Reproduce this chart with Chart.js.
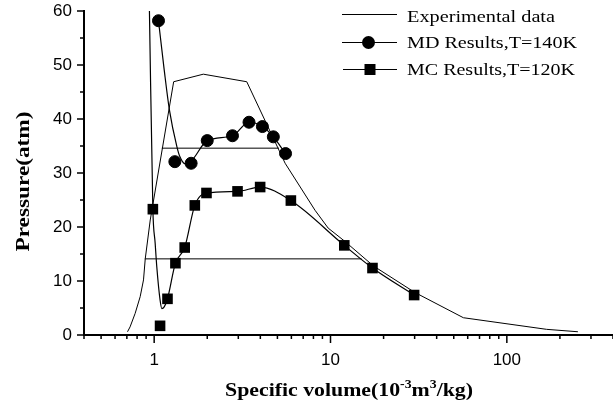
<!DOCTYPE html>
<html lang="en">
  <head>
    <meta charset="UTF-8" />
    <title>Pressure vs specific volume</title>
    <script src="https://cdn.jsdelivr.net/npm/chart.js"></script>
    <style>
      body { margin: 0; background: #fff; }
      #wrap { width: 613px; height: 409px; }
    </style>
  </head>
  <body>
    <div id="wrap"><canvas id="myChart" width="613" height="409"></canvas></div>

    <script>
      // experimental isotherm
      const expVolume = [0.706, 0.73, 0.78, 0.833, 0.87, 0.89, 0.95, 1.29, 1.9, 3.35, 5.53, 8.17, 9.7, 12.0, 17.5, 30.0, 56.7, 168, 253];
      const expPressure = [0.6, 1.5, 4.0, 7.1, 10.2, 14.1, 21.3, 46.9, 48.3, 46.9, 31.8, 23.1, 19.8, 17.4, 12.8, 7.9, 3.2, 1.05, 0.6];

      // MD results, T=140K (points and fitted curve)
      const mdVolume = [1.058, 1.31, 1.62, 2.0, 2.78, 3.45, 4.11, 4.74, 5.56];
      const mdPressure = [58.2, 32.1, 31.8, 36.0, 36.9, 39.4, 38.6, 36.7, 33.6];
      const mdCurveVolume = [1.058, 1.14, 1.22, 1.345, 1.40, 1.50, 1.62, 2.0, 2.78, 3.45, 4.11, 4.74, 5.56];
      const mdCurvePressure = [58.2, 49.1, 41.7, 34.9, 33.0, 31.7, 32.2, 36.0, 36.9, 39.4, 38.6, 36.7, 33.6];

      // MC results, T=120K (points and fitted curve)
      const mcVolume = [0.983, 1.08, 1.19, 1.32, 1.49, 1.70, 1.98, 2.97, 3.99, 5.96, 11.97, 17.3, 29.8];
      const mcPressure = [23.3, 1.7, 6.7, 13.3, 16.2, 24.0, 26.3, 26.6, 27.4, 24.9, 16.6, 12.4, 7.4];
      const mcCurveVolume = [0.94, 0.983, 1.013, 1.035, 1.08, 1.105, 1.14, 1.19, 1.32, 1.49, 1.70, 1.98, 2.97, 3.99, 5.96, 11.97, 17.3, 29.8];
      const mcCurvePressure = [60, 23.3, 17.0, 12.6, 6.5, 4.9, 5.2, 6.7, 13.3, 16.2, 24.0, 26.3, 26.6, 27.4, 24.9, 16.6, 12.4, 7.4];

      // horizontal (equal area) lines
      const mdTieVolume = [1.105, 5.1];
      const mdTiePressure = [34.6, 34.6];
      const mcTieVolume = [0.885, 15.0];
      const mcTiePressure = [14.1, 14.1];

      // axes
      const xLabelled = [1, 10, 100];
      const xMin = 0.4, xMax = 400;
      const yMin = 0, yMax = 60, yStep = 5;

      const xTickValues = [];
      for (let e = -1; e <= 2; e++) {
        for (let s = 1; s <= 9; s++) {
          const v = +(s * Math.pow(10, e)).toPrecision(3);
          if (v >= xMin && v <= xMax) xTickValues.push(v);
        }
      }

      const pts = (xs, ys) => xs.map((v, i) => ({ x: v, y: ys[i] }));
      const isLabelled = (v) => xLabelled.some((l) => Math.abs(l - v) < 1e-9);

      function stretchText(ctx, text, x, y, targetW) {
        const w = ctx.measureText(text).width;
        ctx.save();
        ctx.translate(x, y);
        ctx.scale(targetW / w, 1);
        ctx.fillText(text, 0, 0);
        ctx.restore();
      }

      // tick marks: long on labelled values, short otherwise
      const tickMarks = {
        id: "tickMarks",
        afterDraw(chart) {
          const ctx = chart.ctx;
          const xs = chart.scales.x, ys = chart.scales.y;
          const area = chart.chartArea;
          ctx.save();
          ctx.strokeStyle = "#000";
          ctx.lineWidth = 1.5;
          ctx.beginPath();
          xs.ticks.forEach((t) => {
            const px = xs.getPixelForValue(t.value);
            const len = isLabelled(t.value) ? 8 : 4;
            ctx.moveTo(px, area.bottom);
            ctx.lineTo(px, area.bottom + len);
          });
          ys.ticks.forEach((t) => {
            const py = ys.getPixelForValue(t.value);
            const len = t.value % 10 === 0 ? 7 : 4;
            ctx.moveTo(area.left, py);
            ctx.lineTo(area.left - len, py);
          });
          ctx.stroke();
          ctx.restore();
        }
      };

      // axis titles and legend
      const annotations = {
        id: "annotations",
        afterDraw(chart) {
          const ctx = chart.ctx;
          ctx.save();
          ctx.fillStyle = "#000";
          ctx.textAlign = "left";
          ctx.textBaseline = "alphabetic";

          // y title
          ctx.font = "bold 18px 'Liberation Serif'";
          const yt = "Pressure(atm)";
          const ytw = ctx.measureText(yt).width;
          ctx.save();
          ctx.translate(28.5, 251.5);
          ctx.rotate(-Math.PI / 2);
          ctx.scale(140 / ytw, 1);
          ctx.fillText(yt, 0, 0);
          ctx.restore();

          // x title with superscripts
          const main = "bold 19px 'Liberation Serif'";
          const sup = "bold 12px 'Liberation Serif'";
          const parts = [
            ["Specific volume(10", main, 0],
            ["-3", sup, -8],
            ["m", main, 0],
            ["3", sup, -8],
            ["/kg)", main, 0]
          ];
          let total = 0;
          parts.forEach((p) => { ctx.font = p[1]; total += ctx.measureText(p[0]).width; });
          ctx.save();
          ctx.translate(225, 396);
          ctx.scale(248 / total, 1);
          let cx = 0;
          parts.forEach((p) => {
            ctx.font = p[1];
            ctx.fillText(p[0], cx, p[2]);
            cx += ctx.measureText(p[0]).width;
          });
          ctx.restore();

          // legend
          ctx.font = "16px 'Liberation Serif'";
          stretchText(ctx, "Experimental data", 407, 21.5, 148);
          stretchText(ctx, "MD Results,T=140K", 407, 47.5, 170);
          stretchText(ctx, "MC Results,T=120K", 407, 74.5, 168);

          ctx.strokeStyle = "#000";
          ctx.lineWidth = 1;
          ctx.beginPath();
          ctx.moveTo(342, 14.5); ctx.lineTo(397, 14.5);
          ctx.moveTo(342, 42.5); ctx.lineTo(397, 42.5);
          ctx.moveTo(343, 69.5); ctx.lineTo(397, 69.5);
          ctx.stroke();
          ctx.beginPath();
          ctx.arc(368.5, 42.5, 6.5, 0, Math.PI * 2);
          ctx.fill();
          ctx.fillRect(364.5, 64, 11, 11);
          ctx.restore();
        }
      };

      const lineStyle = {
        showLine: true,
        pointRadius: 0,
        borderColor: "#000",
        backgroundColor: "#000",
        borderWidth: 1
      };

      const data = {
        datasets: [
          { label: "MD points", data: pts(mdVolume, mdPressure), pointStyle: "circle", pointRadius: 6,
            backgroundColor: "#000", borderColor: "#000", borderWidth: 1 },
          { label: "MC points", data: pts(mcVolume, mcPressure), pointStyle: "rect", pointRadius: 7.5,
            backgroundColor: "#000", borderColor: "#000", borderWidth: 0 },
          { label: "MD Results,T=140K", data: pts(mdCurveVolume, mdCurvePressure), ...lineStyle,
            cubicInterpolationMode: "monotone", borderWidth: 1.2 },
          { label: "MC Results,T=120K", data: pts(mcCurveVolume, mcCurvePressure), ...lineStyle,
            cubicInterpolationMode: "monotone", borderWidth: 1.2 },
          { label: "Experimental data", data: pts(expVolume, expPressure), ...lineStyle, tension: 0 },
          { label: "MD tie", data: pts(mdTieVolume, mdTiePressure), ...lineStyle },
          { label: "MC tie", data: pts(mcTieVolume, mcTiePressure), ...lineStyle }
        ]
      };

      const config = {
        type: "scatter",
        data: data,
        options: {
          responsive: false,
          animation: false,
          layout: { autoPadding: false, padding: { top: 11, left: 0, right: 0, bottom: 0 } },
          plugins: { legend: { display: false }, tooltip: { enabled: false } },
          scales: {
            x: {
              type: "logarithmic",
              position: "bottom",
              min: xMin,
              max: xMax,
              grid: { display: false, drawTicks: false },
              border: { display: true, color: "#000", width: 2 },
              afterBuildTicks: (scale) => {
                scale.ticks = xTickValues.map((v) => ({ value: v }));
              },
              afterFit: (scale) => {
                scale.height = 74;
                scale.paddingLeft = 0;
                scale.paddingRight = 0;
              },
              ticks: {
                autoSkip: false,
                maxRotation: 0,
                padding: 15,
                color: "#000",
                font: { family: "'Liberation Sans'", size: 17 },
                callback: (v) => (isLabelled(v) ? String(v) : "")
              }
            },
            y: {
              type: "linear",
              min: yMin,
              max: yMax,
              grid: { display: false, drawTicks: false },
              border: { display: true, color: "#000", width: 2 },
              afterFit: (scale) => {
                scale.width = 84;
                scale.paddingTop = 0;
                scale.paddingBottom = 0;
              },
              ticks: {
                stepSize: yStep,
                padding: 12,
                color: "#000",
                font: { family: "'Liberation Sans'", size: 17 },
                callback: (v) => (v % 10 === 0 ? String(v) : "")
              }
            }
          }
        },
        plugins: [tickMarks, annotations]
      };

      const myChart = new Chart(document.getElementById("myChart"), config);
    </script>
  </body>
</html>
